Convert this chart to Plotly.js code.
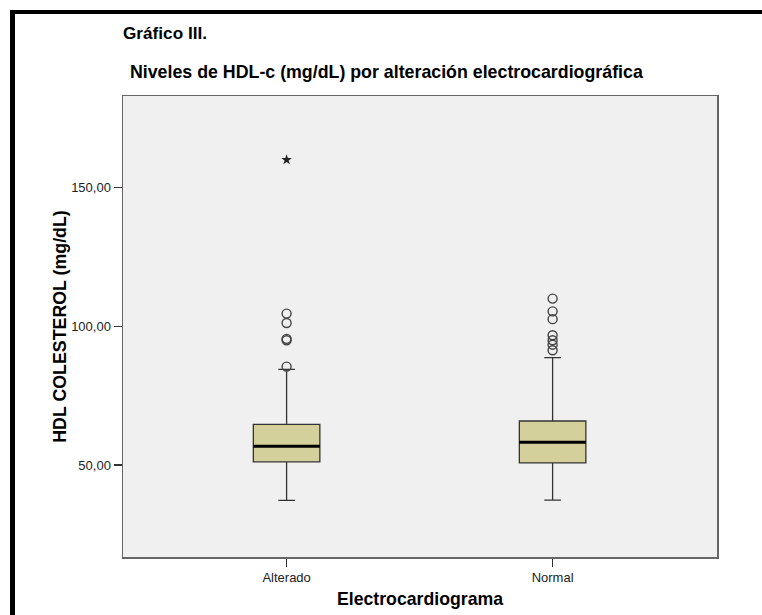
<!DOCTYPE html>
<html><head><meta charset="utf-8">
<script src="https://cdn.plot.ly/plotly-3.0.1.min.js"></script>
<style>html,body{margin:0;padding:0;background:#fff}#chart{width:762px;height:615px}</style>
</head><body><div id="chart"></div>
<script>
// ---- data ----
const categories = ["Alterado", "Normal"];
const q1 = [51.2, 50.8];
const medians = [56.8, 58.2];
const q3 = [64.7, 65.9];
const lowerWhisker = [37.3, 37.4];
const upperWhisker = [84.5, 88.7];
const outliersAlterado = [104.6, 101.2, 95.5, 95.0, 85.5];
const extremesAlterado = [160.0];
const outliersNormal = [110.0, 105.4, 102.6, 96.8, 95.0, 93.4, 91.4];
const extremesNormal = [];
const yTicks = [50, 100, 150];

const chartTitle = "Gráfico III.";
const chartSubtitle = " Niveles de HDL-c (mg/dL) por alteración electrocardiográfica";
const xTitle = "Electrocardiograma";
const yTitle = "HDL COLESTEROL (mg/dL)";

// ---- build traces ----
const pos = categories.map((c, i) => i);
const boxW = 0.25;
const FONT = "Liberation Sans, Arial, sans-serif";

const boxTrace = {
  type: "box", x: pos, q1: q1, median: medians, q3: q3,
  lowerfence: lowerWhisker, upperfence: upperWhisker,
  width: boxW, whiskerwidth: 0.25, boxpoints: false,
  fillcolor: "#d4d09c", line: {color: "#333333", width: 1.3},
  hoverinfo: "y", name: "HDL"
};

const medX = [], medY = [];
pos.forEach((p, i) => { medX.push(p - boxW / 2, p + boxW / 2, null); medY.push(medians[i], medians[i], null); });
const medianTrace = {type: "scatter", mode: "lines", x: medX, y: medY,
  line: {color: "#000", width: 3}, hoverinfo: "skip", connectgaps: false};

const outliers = [outliersAlterado, outliersNormal];
const extremes = [extremesAlterado, extremesNormal];
const oX = [], oY = [], eX = [], eY = [];
outliers.forEach((arr, i) => arr.forEach(v => { oX.push(pos[i]); oY.push(v); }));
extremes.forEach((arr, i) => arr.forEach(v => { eX.push(pos[i]); eY.push(v); }));

const outlierTrace = {type: "scatter", mode: "markers", x: oX, y: oY,
  marker: {symbol: "circle-open", size: 9, color: "#444", line: {width: 1.4, color: "#444"}}};
const extremeTrace = {type: "scatter", mode: "markers", x: eX, y: eY,
  marker: {symbol: "star", size: 8, color: "#222", line: {width: 0}}};

// plot area in pixels: x 123..717, y 96..557
const L = 123, R = 717, T = 96, B = 557, W = R - L, H = B - T;
const px = x => (x - L) / W;
const py = y => (B - y) / H;

const layout = {
  width: 762, height: 615,
  margin: {l: L, r: 762 - R, t: T, b: 615 - B},
  paper_bgcolor: "#ffffff", plot_bgcolor: "#f0f0f0",
  separators: ",.", showlegend: false,
  font: {family: FONT, color: "#000"},
  title: {text: chartTitle, xref: "container", yref: "container",
    x: 123 / 762, xanchor: "left", y: 1 - 33 / 615, yanchor: "middle",
    font: {family: FONT, size: 17.2, weight: "bold", color: "#000"}},
  annotations: [{text: chartSubtitle, xref: "paper", yref: "paper",
    x: px(123), y: py(72), xanchor: "left", yanchor: "middle", showarrow: false,
    font: {family: FONT, size: 17.8, weight: "bold", color: "#000"}}],
  xaxis: {range: [-0.615, 1.618], tickvals: pos, ticktext: categories,
    ticks: "outside", ticklen: 8, tickwidth: 1.5, tickcolor: "#333",
    showline: true, mirror: true, linecolor: "#666", linewidth: 1.5,
    showgrid: false, zeroline: false, fixedrange: true,
    tickfont: {family: FONT, size: 13, color: "#222"},
    title: {text: xTitle, standoff: 8, font: {family: FONT, size: 17.7, weight: "bold", color: "#000"}}},
  yaxis: {range: [16.9, 183], tickvals: yTicks, tickformat: ".2f",
    ticks: "outside", ticklen: 8, tickwidth: 1.5, tickcolor: "#333",
    showline: true, mirror: true, linecolor: "#666", linewidth: 1.5,
    showgrid: false, zeroline: false, fixedrange: true,
    tickfont: {family: FONT, size: 13, color: "#222"},
    title: {text: yTitle, standoff: 0, font: {family: FONT, size: 17.8, weight: "bold", color: "#000"}}},
  shapes: [
    {type: "line", xref: "paper", yref: "paper", x0: px(10), x1: px(765), y0: py(12), y1: py(12),
      line: {color: "#000", width: 4}},
    {type: "line", xref: "paper", yref: "paper", x0: px(12.5), x1: px(12.5), y0: py(10), y1: py(620),
      line: {color: "#000", width: 5}}
  ]
};

Plotly.newPlot("chart", [boxTrace, medianTrace, outlierTrace, extremeTrace], layout,
  {displayModeBar: false, staticPlot: true});
</script></body></html>
